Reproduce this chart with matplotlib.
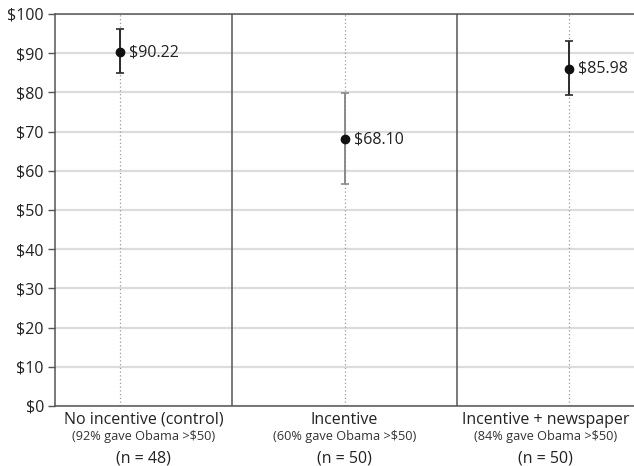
import matplotlib.pyplot as plt

# data
groups = ["No incentive (control)", "Incentive", "Incentive + newspaper"]
notes = ["(92% gave Obama >$50)", "(60% gave Obama >$50)", "(84% gave Obama >$50)"]
counts = [48, 50, 50]
means = [90.22, 68.10, 85.98]
upper = [96.2, 79.8, 93.1]
lower = [84.9, 56.6, 79.3]
bar_colors = ["#2b2b2b", "#8a8a8a", "#2b2b2b"]

plt.rcParams["font.family"] = ["Open Sans", "DejaVu Sans"]

fig = plt.figure(figsize=(6.34, 4.66), dpi=100)
ax = fig.add_axes([0.0868, 0.1288, 0.9132, 0.8412])

ax.set_ylim(0, 100)
ax.set_xlim(0.213, 2.787)

#grid lines
ax.set_yticks(range(0, 101, 10))
ax.set_yticklabels(["$" + str(v) for v in range(0, 101, 10)], fontsize=11.5, color="#222222")
ax.grid(axis="y", color="#dcdcdc", linewidth=1.6)
ax.set_axisbelow(True)
ax.set_xticks([])
ax.tick_params(axis="y", length=5, width=1, color="#555555", pad=3)

for side in ["left", "top", "bottom"]:
    ax.spines[side].set_color("#555555")
    ax.spines[side].set_linewidth(1.1)
ax.spines["right"].set_visible(False)

# panel separators
for sep in [1, 2]:
    ax.axvline(sep, color="#555555", linewidth=1.1, zorder=2)

# centre of each panel for the labels
lo, hi = ax.get_xlim()
edges = [lo, 1, 2, hi]
centres = [(edges[i] + edges[i + 1]) / 2 for i in range(3)]

trans = ax.get_xaxis_transform()
for i, m in enumerate(means):
    x = i + 0.5
    ax.axvline(x, color="#9a9a9a", linewidth=0.9, linestyle=(0, (1, 2)), zorder=1)
    ax.errorbar(x, m, yerr=[[m - lower[i]], [upper[i] - m]], fmt="none",
                ecolor=bar_colors[i], elinewidth=1.4, capsize=3, capthick=1.2, zorder=3)
    ax.plot(x, m, "o", color="#111111", markersize=6, zorder=4)
    ax.annotate(f"${m:.2f}", (x, m), xytext=(6.5, 0), textcoords="offset points",
                va="center", ha="left", fontsize=11.5, color="#222222")

    ax.text(centres[i], -0.0357, groups[i], transform=trans, ha="center", va="center",
            fontsize=11.5, color="#222222")
    ax.text(centres[i], -0.079, notes[i], transform=trans, ha="center", va="center",
            fontsize=9.2, color="#333333")
    ax.text(centres[i], -0.135, f"(n = {counts[i]})", transform=trans, ha="center", va="center",
            fontsize=11.5, color="#222222")

fig.savefig("out.png", dpi=100)
